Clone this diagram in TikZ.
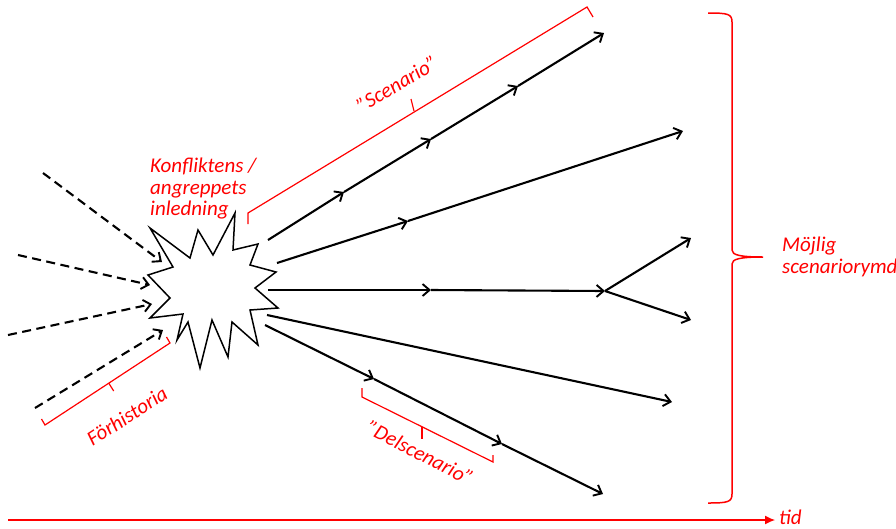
\documentclass[tikz,border=0pt]{standalone}
\usepackage{fontspec}
\setmainfont{Carlito}
\usetikzlibrary{arrows.meta}
\definecolor{lred}{RGB}{255,0,0}
\begin{document}
\begin{tikzpicture}[x=1pt,y=-1pt,
  tipb/.tip={Straight Barb[length=7pt,width=12pt,line width=1.9pt]},
  arr/.style={line width=2.1pt,-tipb},
  darr/.style={line width=2.1pt,dash pattern=on 9pt off 5.5pt,-tipb},
  brk/.style={draw=lred,line width=1.2pt},
  lbl/.style={text=lred,font=\fontsize{21}{21.5}\selectfont\itshape,inner sep=0pt},
  burst/.style={draw=black,fill=white,line width=1.5pt,line join=miter}]
\useasboundingbox (0,0) rectangle (896,528);

% starburst
\draw[burst] (150,228) -- (190,258) -- (198,230) -- (213,255) -- (235,213) -- (233,250)
  -- (258,244) -- (250,265) -- (276,272) -- (255,288) -- (278,308) -- (250,310)
  -- (258,345) -- (232,322) -- (228,357) -- (212,320) -- (200,368) -- (188,322)
  -- (177,340) -- (183,314) -- (150,318) -- (170,298) -- (148,275) -- (173,267) -- cycle;

% coordinates
\coordinate (d1s) at (43,173);  \coordinate (d1e) at (162,262);
\coordinate (d2s) at (18,255);  \coordinate (d2e) at (150,285);
\coordinate (d3s) at (8,335);   \coordinate (d3e) at (152,304);
\coordinate (d4s) at (35,408);  \coordinate (d4e) at (163,330);

\coordinate (a0) at (268,240); \coordinate (a1) at (344,192); \coordinate (a2) at (431,139);
\coordinate (a3) at (518,86);  \coordinate (a4) at (604,33);
\coordinate (b0) at (277,263); \coordinate (b1) at (408,221); \coordinate (b2) at (683,131);
\coordinate (c0) at (268,290); \coordinate (c1) at (431,290); \coordinate (c2) at (605,291);
\coordinate (c3) at (691,238); \coordinate (c4) at (691,320);
\coordinate (dd0) at (267,315); \coordinate (dd1) at (672,402);
\coordinate (e0) at (265,325); \coordinate (e1) at (374,379); \coordinate (e2) at (502,444);
\coordinate (e3) at (603,494);

% dashed incoming arrows
\draw[darr] (d1s) -- (d1e);
\draw[darr] (d2s) -- (d2e);
\draw[darr] (d3s) -- (d3e);
\draw[darr] (d4s) -- (d4e);

% outgoing arrows
\draw[arr] (a0) -- (a1); \draw[arr] (a1) -- (a2); \draw[arr] (a2) -- (a3); \draw[arr] (a3) -- (a4);
\draw[arr] (b0) -- (b1); \draw[arr] (b1) -- (b2);
\draw[arr] (c0) -- (c1); \draw[arr] (c1) -- (c2); \draw[arr] (c2) -- (c3); \draw[arr] (c2) -- (c4);
\draw[arr] (dd0) -- (dd1);
\draw[arr] (e0) -- (e1); \draw[arr] (e1) -- (e2); \draw[arr] (e2) -- (e3);

% brackets
\draw[brk] (248,224) -- (248,213) -- (587,7) -- (593,17);
\draw[brk] (414,111) -- (411,99);
\draw[brk] (362,388) -- (362,397) -- (493,462) -- (493,455);
\draw[brk] (422,427) -- (422,439);
\draw[brk] (166.5,337) -- (170,343) -- (45,425) -- (41.5,419);
\draw[brk] (108.8,383.2) -- (113.7,391);

% big brace
\draw[brk,line width=1.5pt] (708,13) .. controls (728,13) and (732,14) .. (732,22) -- (732,250)
  .. controls (732,255) and (740,257) .. (763,257)
  .. controls (740,257) and (732,259) .. (732,264) -- (732,494)
  .. controls (732,502) and (728,503) .. (708,503);

% time axis
\coordinate (t0) at (8,520);
\coordinate (t1) at (775,520);
\draw[draw=lred,line width=1.2pt,-{Latex[length=10pt,width=9pt]}] (t0) -- (t1);

% labels
\node[lbl,align=left,anchor=north west] (konf) at (150,158) {Konfliktens /\\angreppets\\inledning};
\node[lbl,align=left,anchor=north west] (mojl) at (782,237) {Möjlig\\scenariorymd};
\node[lbl,anchor=base west] (tid) at (779,524) {tid};
\node[lbl,rotate=31] (scen) at (397,84) {”Scenario”};
\node[lbl,rotate=-27] (dels) at (420,453) {”Delscenario”};
\node[lbl,rotate=33] (forh) at (127,416) {Förhistoria};
\end{tikzpicture}
\end{document}
